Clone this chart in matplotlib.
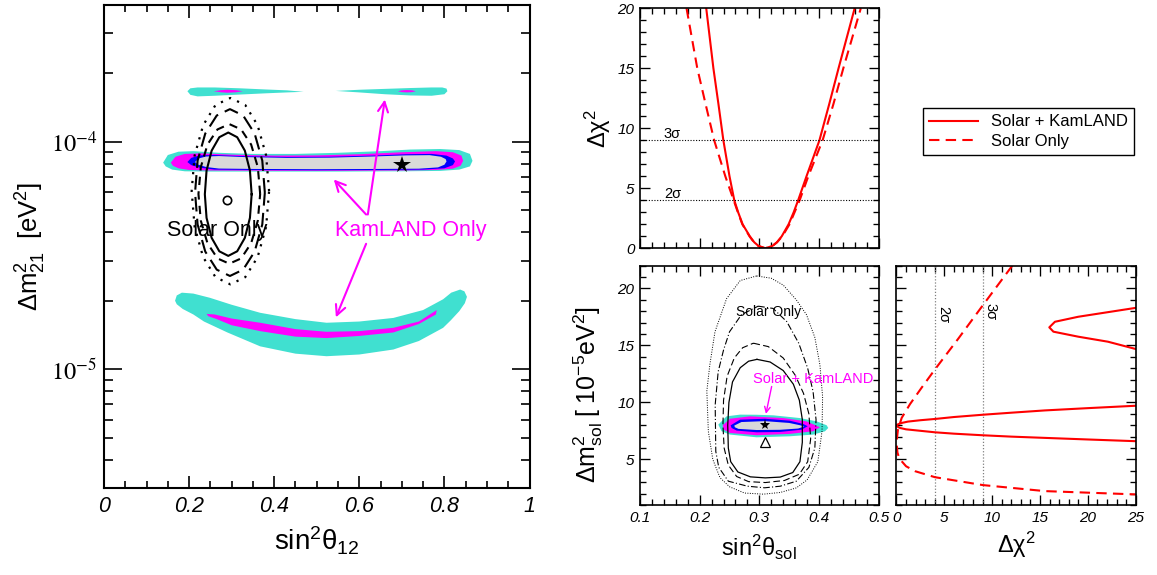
import matplotlib
matplotlib.use("Agg")
import matplotlib.pyplot as plt
from matplotlib.lines import Line2D
from matplotlib.ticker import MultipleLocator, LogLocator, NullFormatter

plt.rcParams["font.family"] = ["Liberation Sans", "DejaVu Sans"]
plt.rcParams["mathtext.fontset"] = "stix"

# mass splittings are kept in units of 1e-5 eV^2 everywhere below

# ---- left panel: KamLAND only regions ----
KL_MAIN_TURQ_X = [0.139, 0.150, 0.175, 0.21, 0.27, 0.35, 0.45, 0.55, 0.65, 0.72, 0.79, 0.835, 0.860, 0.866,
                  0.860, 0.835, 0.79, 0.70, 0.55, 0.40, 0.25, 0.19, 0.160, 0.145]
KL_MAIN_TURQ_Y = [8.10, 8.75, 9.05, 9.10, 8.95, 8.85, 8.85, 8.95, 9.10, 9.25, 9.30, 9.20, 8.85, 8.25,
                  7.80, 7.55, 7.45, 7.42, 7.40, 7.40, 7.40, 7.42, 7.55, 7.80]
KL_MAIN_MAG_X = [0.157, 0.168, 0.19, 0.23, 0.30, 0.40, 0.50, 0.60, 0.70, 0.78, 0.82, 0.840, 0.844,
                 0.838, 0.82, 0.78, 0.70, 0.55, 0.40, 0.25, 0.20, 0.175, 0.162]
KL_MAIN_MAG_Y = [8.10, 8.60, 8.85, 8.90, 8.78, 8.70, 8.72, 8.82, 9.00, 9.10, 9.00, 8.70, 8.25,
                 7.85, 7.62, 7.52, 7.48, 7.46, 7.46, 7.48, 7.52, 7.65, 7.85]
KL_MAIN_BLUE_X = [0.196, 0.205, 0.225, 0.26, 0.33, 0.43, 0.53, 0.63, 0.71, 0.77, 0.805, 0.82, 0.825,
                  0.82, 0.80, 0.75, 0.65, 0.50, 0.35, 0.26, 0.225, 0.205]
KL_MAIN_BLUE_Y = [8.15, 8.50, 8.72, 8.75, 8.65, 8.58, 8.60, 8.70, 8.82, 8.85, 8.70, 8.45, 8.20,
                  7.90, 7.65, 7.55, 7.52, 7.50, 7.52, 7.55, 7.70, 7.90]
KL_MAIN_GREY_X = [0.214, 0.222, 0.24, 0.27, 0.33, 0.43, 0.53, 0.63, 0.71, 0.765, 0.792, 0.803, 0.805,
                  0.80, 0.785, 0.74, 0.65, 0.50, 0.35, 0.27, 0.24, 0.222]
KL_MAIN_GREY_Y = [8.15, 8.45, 8.62, 8.66, 8.57, 8.50, 8.52, 8.62, 8.72, 8.74, 8.60, 8.40, 8.20,
                  7.93, 7.72, 7.62, 7.60, 7.58, 7.60, 7.63, 7.75, 7.93]

KL_UP_L_X = [0.196, 0.203, 0.22, 0.26, 0.32, 0.38, 0.43, 0.469, 0.43, 0.38, 0.32, 0.26, 0.22, 0.203]
KL_UP_L_Y = [16.7, 17.2, 17.35, 17.35, 17.2, 17.0, 16.85, 16.6, 16.5, 16.35, 16.15, 15.95, 15.85, 16.1]
KL_UP_R_X = [0.545, 0.60, 0.66, 0.72, 0.77, 0.795, 0.805, 0.807, 0.80, 0.77, 0.72, 0.66, 0.60]
KL_UP_R_Y = [16.75, 16.95, 17.1, 17.25, 17.35, 17.35, 17.15, 16.7, 16.2, 15.95, 16.0, 16.2, 16.5]
KL_UP_MAG_L_X = [0.258, 0.275, 0.29, 0.31, 0.326, 0.31, 0.29, 0.275]
KL_UP_MAG_L_Y = [16.7, 16.88, 16.95, 16.88, 16.7, 16.52, 16.45, 16.52]
KL_UP_MAG_R_X = [0.691, 0.70, 0.712, 0.724, 0.733, 0.724, 0.712, 0.70]
KL_UP_MAG_R_Y = [16.7, 16.85, 16.9, 16.85, 16.7, 16.55, 16.5, 16.55]

KL_LOW_TURQ_X = [0.167, 0.171, 0.183, 0.210, 0.249, 0.30, 0.367, 0.45, 0.523, 0.60, 0.680, 0.75, 0.797,
                 0.816, 0.837, 0.847, 0.853, 0.848, 0.835, 0.815, 0.797, 0.74, 0.680, 0.60, 0.523,
                 0.45, 0.367, 0.29, 0.235, 0.210, 0.185, 0.171]
KL_LOW_TURQ_Y = [2.00, 2.11, 2.17, 2.15, 2.06, 1.92, 1.77, 1.66, 1.60, 1.62, 1.68, 1.82, 2.03,
                 2.17, 2.24, 2.20, 2.08, 1.95, 1.80, 1.64, 1.52, 1.33, 1.22, 1.16, 1.14,
                 1.17, 1.26, 1.45, 1.62, 1.74, 1.84, 1.93]
KL_LOW_MAG_X = [0.241, 0.26, 0.30, 0.367, 0.45, 0.523, 0.60, 0.680, 0.74, 0.782,
                0.780, 0.74, 0.680, 0.60, 0.523, 0.45, 0.367, 0.30, 0.265, 0.245]
KL_LOW_MAG_Y = [1.75, 1.74, 1.67, 1.60, 1.50, 1.46, 1.47, 1.52, 1.62, 1.82,
                1.74, 1.58, 1.45, 1.40, 1.37, 1.39, 1.47, 1.56, 1.66, 1.71]

# ---- left panel: solar only contours ----
SOL1_X = [0.347, 0.343, 0.331, 0.313, 0.292, 0.271, 0.253, 0.241, 0.237, 0.241, 0.253, 0.271, 0.292, 0.313, 0.331, 0.343]
SOL1_Y = [5.88, 7.47, 9.15, 10.48, 10.99, 10.48, 9.15, 7.47, 5.88, 4.63, 3.78, 3.30, 3.15, 3.30, 3.78, 4.63]
SOL2_X = [0.367, 0.3615, 0.3458, 0.3223, 0.2945, 0.2667, 0.2432, 0.2275, 0.222, 0.2275, 0.2432, 0.2667, 0.2945, 0.3223, 0.3458, 0.3615]
SOL2_Y = [5.90, 7.74, 9.73, 11.34, 11.97, 11.34, 9.73, 7.74, 5.90, 4.50, 3.58, 3.07, 2.91, 3.07, 3.58, 4.50]
SOL3_X = [0.378, 0.372, 0.354, 0.327, 0.296, 0.265, 0.238, 0.220, 0.214, 0.220, 0.238, 0.265, 0.296, 0.327, 0.354, 0.372]
SOL3_Y = [5.98, 8.27, 10.88, 13.06, 13.93, 13.06, 10.88, 8.27, 5.98, 4.33, 3.29, 2.74, 2.57, 2.74, 3.29, 4.33]
SOL4_X = [0.388, 0.381, 0.361, 0.332, 0.297, 0.262, 0.233, 0.213, 0.206, 0.213, 0.233, 0.262, 0.297, 0.332, 0.361, 0.381]
SOL4_Y = [6.07, 8.71, 11.83, 14.52, 15.60, 14.52, 11.83, 8.71, 6.07, 4.23, 3.11, 2.54, 2.36, 2.54, 3.11, 4.23]

BEST_KL = (0.701, 7.89)
BEST_SOLAR = (0.290, 5.53)
ARROW_TAIL = [(0.616, 4.79), (0.620, 4.79), (0.616, 3.56)]
ARROW_HEAD = [(0.540, 6.83), (0.660, 15.35), (0.545, 1.69)]

# ---- top right: delta chi^2 vs sin^2 ----
TR_CHI = [20, 15, 12, 9, 6, 4, 3, 2, 1, 0.5, 0.2, 0, 0.2, 0.5, 1, 2, 3, 4, 6, 9, 12, 15, 20]
TR_SKL = [0.211, 0.223, 0.2315, 0.2397, 0.250, 0.258, 0.2645, 0.272, 0.284, 0.2915, 0.2985, 0.310,
          0.322, 0.3295, 0.3375, 0.349, 0.3575, 0.365, 0.379, 0.4007, 0.417, 0.4327, 0.4597]
TR_SOL = [0.178, 0.196, 0.210, 0.2243, 0.243, 0.257, 0.264, 0.2715, 0.2835, 0.291, 0.298, 0.310,
          0.322, 0.3295, 0.3385, 0.3505, 0.359, 0.3675, 0.382, 0.406, 0.424, 0.4407, 0.470]

# ---- bottom middle: contours ----
MS1_X = [0.296, 0.318, 0.340, 0.357, 0.367, 0.372, 0.372, 0.368, 0.356, 0.335, 0.310, 0.285, 0.264, 0.252, 0.248, 0.247, 0.249, 0.255, 0.268, 0.282]
MS1_Y = [13.78, 13.55, 12.80, 11.60, 10.20, 8.50, 6.50, 4.80, 3.85, 3.45, 3.38, 3.47, 3.90, 4.80, 6.00, 8.00, 10.00, 11.80, 13.05, 13.62]
MS2_X = [0.290, 0.315, 0.340, 0.360, 0.374, 0.383, 0.386, 0.381, 0.367, 0.342, 0.310, 0.282, 0.262, 0.248, 0.241, 0.239, 0.240, 0.246, 0.258, 0.272]
MS2_Y = [15.20, 14.90, 13.90, 12.40, 10.80, 9.00, 6.80, 4.80, 3.70, 3.15, 2.97, 3.05, 3.50, 4.50, 6.00, 8.00, 10.20, 12.30, 13.90, 14.80]
MS3_X = [0.298, 0.323, 0.346, 0.366, 0.381, 0.390, 0.395, 0.393, 0.383, 0.362, 0.335, 0.309, 0.280, 0.248, 0.232, 0.227, 0.226, 0.231, 0.240, 0.250, 0.270]
MS3_Y = [18.45, 18.25, 17.09, 15.20, 13.00, 10.96, 8.50, 6.00, 4.30, 3.09, 2.65, 2.51, 2.65, 3.09, 4.30, 5.70, 9.80, 12.70, 14.60, 16.20, 17.70]
MS4_X = [0.2954, 0.320, 0.340, 0.362, 0.379, 0.393, 0.4015, 0.406, 0.405, 0.398, 0.380, 0.362, 0.335, 0.3066, 0.275, 0.250, 0.234, 0.222, 0.2145, 0.212, 0.217, 0.2256, 0.245, 0.268]
MS4_Y = [21.1, 20.9, 20.3, 19.0, 17.7, 15.7, 13.3, 10.5, 7.47, 4.8, 3.2, 2.5, 2.1, 1.95, 2.05, 2.6, 3.4, 5.0, 7.47, 11.0, 13.3, 16.2, 19.1, 20.7]

MK_TURQ_X = [0.2312, 0.245, 0.2675, 0.295, 0.3233, 0.368, 0.396, 0.4127, 0.4155, 0.410, 0.3903, 0.351, 0.2954, 0.2508, 0.2368]
MK_TURQ_Y = [8.05, 8.78, 8.93, 8.92, 8.87, 8.63, 8.34, 8.00, 7.76, 7.47, 7.18, 7.03, 6.94, 7.18, 7.47]
MK_MAG_X = [0.2385, 0.2508, 0.2843, 0.340, 0.379, 0.4015, 0.3903, 0.351, 0.2954, 0.2508, 0.2407]
MK_MAG_Y = [7.99, 8.57, 8.78, 8.63, 8.34, 7.82, 7.47, 7.24, 7.12, 7.32, 7.61]
MK_BLUE_X = [0.2519, 0.2675, 0.3094, 0.351, 0.3736, 0.381, 0.3708, 0.3345, 0.2954, 0.262, 0.2535]
MK_BLUE_Y = [7.99, 8.49, 8.57, 8.40, 8.11, 7.91, 7.61, 7.41, 7.38, 7.53, 7.76]
MK_GREY_X = [0.258, 0.270, 0.309, 0.350, 0.369, 0.375, 0.365, 0.3345, 0.2954, 0.265, 0.259]
MK_GREY_Y = [7.97, 8.28, 8.36, 8.20, 7.99, 7.88, 7.71, 7.60, 7.58, 7.68, 7.82]
BEST_MID_SKL = (0.3094, 7.99)
BEST_MID_SOL = (0.3094, 6.50)

# ---- bottom right: delta chi^2 vs dm2 ----
BR_SKL_CHI = [25, 20, 15.5, 12, 9.0, 6, 4.02, 2.5, 1.2, 0.54, 0.15, 0.0, 0.1, 0.37, 1.0, 1.93, 4.02, 6, 9.0, 12, 15.5, 20, 25]
BR_SKL_DM = [9.71, 9.50, 9.30, 9.10, 8.92, 8.72, 8.55, 8.44, 8.32, 8.20, 8.08, 7.99, 7.88, 7.76, 7.64, 7.56, 7.38, 7.26, 7.12, 7.00, 6.89, 6.75, 6.60]
BR_ISL_CHI = [25, 19.0, 16.56, 15.97, 16.4, 19.0, 22.1, 25]
BR_ISL_DM = [18.30, 17.52, 17.08, 16.59, 16.21, 15.77, 15.33, 14.69]
BR_SOL_CHI = [12.1, 9.0, 6.46, 4.02, 2.63, 1.41, 0.54, 0.15, 0.0, 0.1, 0.25, 0.54, 1.0, 1.93, 4.02, 9.0, 15.5, 25.0]
BR_SOL_DM = [22.0, 18.5, 15.6, 12.9, 11.3, 9.85, 8.64, 7.6, 6.5, 5.6, 5.2, 4.84, 4.40, 3.97, 3.44, 2.75, 2.22, 1.93]

TURQ = "#40e0d0"
MAG = "#ff00ff"
BLUE = "#0000ff"
GREY = "#d9d9d9"
RED = "#ff0000"
W, H = 1157, 575


def closed(v):
    return list(v) + [v[0]]


def e5(v):
    return [y * 1e-5 for y in v]


def frame(ax, lw):
    for s in ax.spines.values():
        s.set_linewidth(lw)
    ax.tick_params(which="both", direction="in", top=True, right=True, width=lw * 0.8)


fig = plt.figure(figsize=(W / 100, H / 100), dpi=100)

# ================= left panel =================
ax1 = fig.add_axes([104 / W, 1 - 488 / H, 425.5 / W, 483 / H])
ax1.set_yscale("log")
for xs, ys, c in [(KL_MAIN_TURQ_X, KL_MAIN_TURQ_Y, TURQ), (KL_MAIN_MAG_X, KL_MAIN_MAG_Y, MAG),
                  (KL_MAIN_BLUE_X, KL_MAIN_BLUE_Y, BLUE), (KL_MAIN_GREY_X, KL_MAIN_GREY_Y, GREY),
                  (KL_UP_L_X, KL_UP_L_Y, TURQ), (KL_UP_R_X, KL_UP_R_Y, TURQ),
                  (KL_UP_MAG_L_X, KL_UP_MAG_L_Y, MAG), (KL_UP_MAG_R_X, KL_UP_MAG_R_Y, MAG),
                  (KL_LOW_TURQ_X, KL_LOW_TURQ_Y, TURQ), (KL_LOW_MAG_X, KL_LOW_MAG_Y, MAG)]:
    ax1.fill(xs, e5(ys), color=c, lw=0)

ax1.plot(closed(SOL1_X), e5(closed(SOL1_Y)), color="k", lw=1.5)
ax1.plot(closed(SOL2_X), e5(closed(SOL2_Y)), color="k", lw=1.5, ls=(0, (4, 3)))
ax1.plot(closed(SOL3_X), e5(closed(SOL3_Y)), color="k", lw=1.5, ls=(0, (7, 3.5)))
ax1.plot(closed(SOL4_X), e5(closed(SOL4_Y)), color="k", lw=1.6, ls=(0, (1, 3)))
ax1.plot(BEST_KL[0], BEST_KL[1] * 1e-5, marker="*", ms=13, color="k", mew=0)
ax1.plot(BEST_SOLAR[0], BEST_SOLAR[1] * 1e-5, marker="o", ms=6, mfc="none", mec="k", mew=1.2)

ax1.text(0.265, 4.06e-5, "Solar Only", fontsize=15.5, ha="center", va="center")
ax1.text(0.72, 4.06e-5, "KamLAND Only", fontsize=15.5, ha="center", va="center", color=MAG)
for (tx, ty), (hx, hy) in zip(ARROW_TAIL, ARROW_HEAD):
    ax1.annotate("", xy=(hx, hy * 1e-5), xytext=(tx, ty * 1e-5),
                 arrowprops=dict(arrowstyle="->", color=MAG, lw=1.5, mutation_scale=18, shrinkA=0, shrinkB=0))

ax1.set_xlim(0, 1)
ax1.set_ylim(3e-6, 4e-4)
frame(ax1, 1.5)
ax1.set_xticks([0, 0.2, 0.4, 0.6, 0.8, 1], labels=["0", "0.2", "0.4", "0.6", "0.8", "1"],
               fontsize=15.5, fontstyle="italic")
ax1.xaxis.set_minor_locator(MultipleLocator(0.05))
ax1.set_yticks([1e-5, 1e-4], labels=[r"$10^{-5}$", r"$10^{-4}$"], fontsize=17.5)
ax1.yaxis.set_minor_locator(LogLocator(base=10, subs=[2, 3, 4, 5, 6, 7, 8, 9], numticks=20))
ax1.yaxis.set_minor_formatter(NullFormatter())
ax1.tick_params(axis="x", which="major", length=9, pad=6)
ax1.tick_params(axis="x", which="minor", length=5)
ax1.tick_params(axis="y", which="major", length=13, pad=5)
ax1.tick_params(axis="y", which="minor", length=6.5)
ax1.set_xlabel(r"$\mathregular{sin^2\theta_{12}}$", fontsize=20)
ax1.xaxis.set_label_coords(0.5, -0.076)
ax1.set_ylabel(r"$\mathregular{\Delta m^2_{21}\ \ [eV^2]}$", fontsize=18.5)
ax1.yaxis.set_label_coords(-0.131, 0.5)

# ================= top right =================
ax2 = fig.add_axes([640 / W, 1 - 248.3 / H, 238.7 / W, 240 / H])
ax2.plot(TR_SKL, TR_CHI, color=RED, lw=1.5)
ax2.plot(TR_SOL, TR_CHI, color=RED, lw=1.5, ls=(0, (5, 3)))
ax2.axhline(9, color="k", lw=0.8, ls=(0, (1, 1.5)))
ax2.axhline(4, color="k", lw=0.8, ls=(0, (1, 1.5)))
ax2.text(0.14, 9.2, "3σ", fontsize=10.5)
ax2.text(0.14, 4.2, "2σ", fontsize=10.5)
ax2.set_xlim(0.1, 0.5)
ax2.set_ylim(0, 20)
frame(ax2, 1.2)
ax2.xaxis.set_major_locator(MultipleLocator(0.1))
ax2.xaxis.set_minor_locator(MultipleLocator(0.02))
ax2.set_xticklabels([])
ax2.set_yticks([0, 5, 10, 15, 20], labels=["0", "5", "10", "15", "20"], fontsize=11, fontstyle="italic")
ax2.yaxis.set_minor_locator(MultipleLocator(1))
ax2.tick_params(which="major", length=7.5, pad=4)
ax2.tick_params(which="minor", length=4)
ax2.set_ylabel(r"$\mathregular{\Delta\chi^2}$", fontsize=17)
ax2.yaxis.set_label_coords(-0.113, 0.5)

fig.legend(handles=[Line2D([], [], color=RED, lw=1.5), Line2D([], [], color=RED, lw=1.5, ls=(0, (5, 3)))],
           labels=["Solar + KamLAND", "Solar Only"], loc="upper left",
           bbox_to_anchor=(923 / W, 1 - 108 / H), borderaxespad=0, frameon=True, fancybox=False,
           edgecolor="k", fontsize=12, handlelength=2.9, handletextpad=0.8, borderpad=0.38,
           labelspacing=0.28, framealpha=1)

# ================= bottom middle =================
ax3 = fig.add_axes([640 / W, 1 - 505 / H, 238.7 / W, 239.3 / H])
ax3.plot(closed(MS4_X), closed(MS4_Y), color="k", lw=0.7, ls=(0, (1, 1.5)))
ax3.plot(closed(MS3_X), closed(MS3_Y), color="k", lw=0.8, ls=(0, (6, 2, 1, 2)))
ax3.plot(closed(MS2_X), closed(MS2_Y), color="k", lw=0.8, ls=(0, (6, 3)))
ax3.plot(closed(MS1_X), closed(MS1_Y), color="k", lw=0.9)
for xs, ys, c in [(MK_TURQ_X, MK_TURQ_Y, TURQ), (MK_MAG_X, MK_MAG_Y, MAG),
                  (MK_BLUE_X, MK_BLUE_Y, BLUE), (MK_GREY_X, MK_GREY_Y, GREY)]:
    ax3.fill(xs, ys, color=c, lw=0)
ax3.plot(*BEST_MID_SKL, marker="*", ms=8, color="k", mew=0)
ax3.plot(*BEST_MID_SOL, marker="^", ms=7, mfc="none", mec="k", mew=0.9)
ax3.text(0.316, 17.95, "Solar Only", fontsize=10, ha="center", va="center")
ax3.text(0.390, 12.05, "Solar + KamLAND", fontsize=10.5, ha="center", va="center", color=MAG)
ax3.annotate("", xy=(0.311, 9.0), xytext=(0.3206, 11.4),
             arrowprops=dict(arrowstyle="->", color=MAG, lw=1.0, mutation_scale=10, shrinkA=0, shrinkB=0))
ax3.set_xlim(0.1, 0.5)
ax3.set_ylim(1, 22)
frame(ax3, 1.2)
ax3.set_xticks([0.1, 0.2, 0.3, 0.4, 0.5], labels=["0.1", "0.2", "0.3", "0.4", "0.5"],
               fontsize=11, fontstyle="italic")
ax3.xaxis.set_minor_locator(MultipleLocator(0.02))
ax3.set_yticks([5, 10, 15, 20], labels=["5", "10", "15", "20"], fontsize=11, fontstyle="italic")
ax3.yaxis.set_minor_locator(MultipleLocator(1))
ax3.tick_params(which="major", length=7.5, pad=4)
ax3.tick_params(which="minor", length=4)
ax3.set_xlabel(r"$\mathregular{sin^2\theta_{sol}}$", fontsize=17)
ax3.xaxis.set_label_coords(0.5, -0.115)
ax3.set_ylabel(r"$\mathregular{\Delta m^2_{sol}\ [\ 10^{-5}eV^2]}$", fontsize=18)
ax3.yaxis.set_label_coords(-0.147, 0.46)

# ================= bottom right =================
ax4 = fig.add_axes([896.5 / W, 1 - 505 / H, 239.2 / W, 239.3 / H])
ax4.axvline(4, color="grey", lw=0.9, ls=(0, (1, 1.5)))
ax4.axvline(9, color="grey", lw=0.9, ls=(0, (1, 1.5)))
ax4.plot(BR_SKL_CHI, BR_SKL_DM, color=RED, lw=1.5)
ax4.plot(BR_ISL_CHI, BR_ISL_DM, color=RED, lw=1.5)
ax4.plot(BR_SOL_CHI, BR_SOL_DM, color=RED, lw=1.5, ls=(0, (5, 3)))
ax4.text(4.9, 17.7, "2σ", fontsize=10.5, rotation=270, ha="center", va="center")
ax4.text(9.85, 18.0, "3σ", fontsize=10.5, rotation=270, ha="center", va="center")
ax4.set_xlim(0, 25)
ax4.set_ylim(1, 22)
frame(ax4, 1.2)
ax4.set_xticks([0, 5, 10, 15, 20, 25], labels=["0", "5", "10", "15", "20", "25"],
               fontsize=11, fontstyle="italic")
ax4.xaxis.set_minor_locator(MultipleLocator(1))
ax4.yaxis.set_major_locator(MultipleLocator(5))
ax4.yaxis.set_minor_locator(MultipleLocator(1))
ax4.set_yticklabels([])
ax4.tick_params(which="major", length=7.5, pad=4)
ax4.tick_params(which="minor", length=4)
ax4.set_xlabel(r"$\mathregular{\Delta\chi^2}$", fontsize=17)
ax4.xaxis.set_label_coords(0.5, -0.104)

fig.savefig("out.png", dpi=100)
